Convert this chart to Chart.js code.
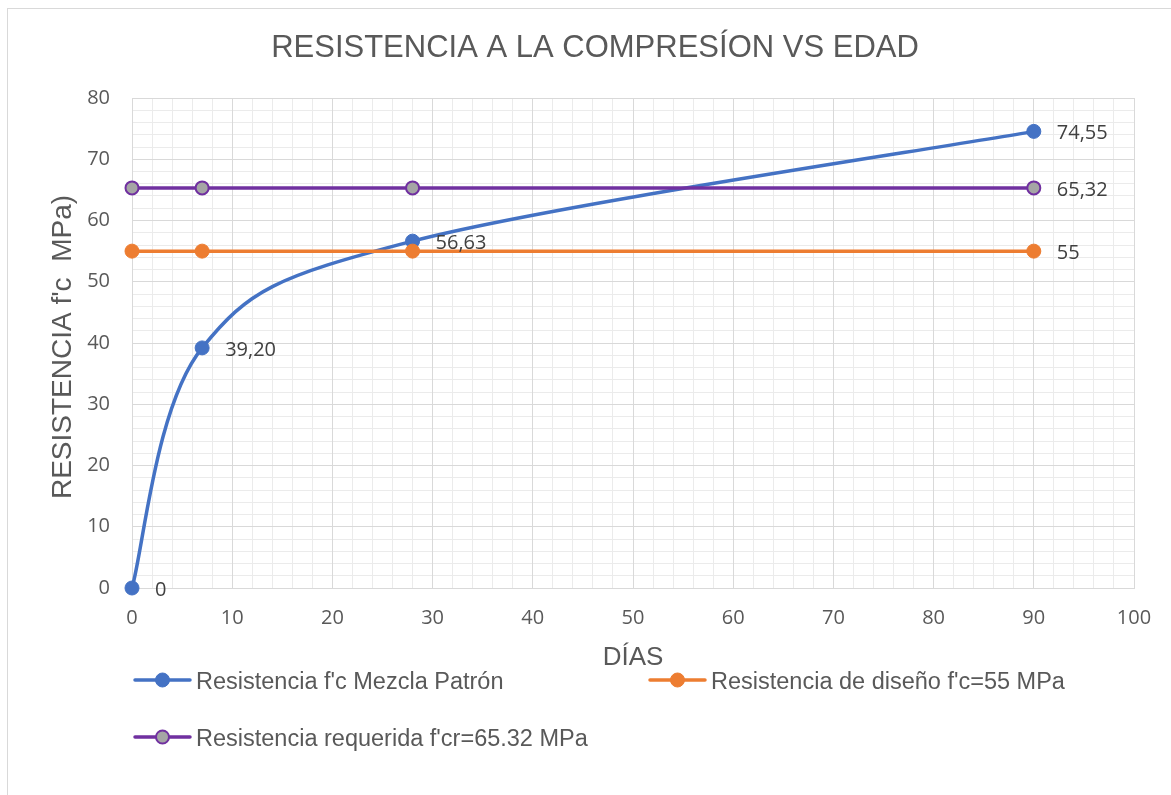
<!DOCTYPE html>
<html><head><meta charset="utf-8">
<script src="https://cdn.jsdelivr.net/npm/chart.js@4.4.1/dist/chart.umd.min.js"></script>
<style>html,body{margin:0;padding:0;background:#fff}#wrap{position:relative;width:1171px;height:795px}</style>
</head><body><div id="wrap"><canvas id="c" width="1171" height="795"></canvas></div>
<script>
const days = [0, 7, 28, 90];
const mezclaPatron = [0, 39.20, 56.63, 74.55];
const disenoValues = [55, 55, 55, 55];
const requeridaValues = [65.32, 65.32, 65.32, 65.32];
const mezclaLabels = ['0', '39,20', '56,63', '74,55'];
const disenoLabels = ['', '', '', '55'];
const requeridaLabels = ['', '', '', '65,32'];
const seriesNames = ["Resistencia f'c Mezcla Patrón", "Resistencia de diseño f'c=55 MPa", "Resistencia requerida f'cr=65.32 MPa"];
const chartTitle = 'RESISTENCIA A LA COMPRESÍON VS EDAD';
const xTitle = 'DÍAS';
const yTitle = "RESISTENCIA f'c  MPa)";
const xRange = [0, 100];
const yRange = [0, 80];

const BLUE = '#4472c4', ORANGE = '#ed7d31', PURPLE = '#7030a0', GRAY = '#a5a5a5';
const TXT = '#595959';

function pts(xs, ys) { return xs.map((x, i) => ({x: x, y: ys[i]})); }

const series = [
  {name: seriesNames[0], data: pts(days, mezclaPatron), labels: mezclaLabels, color: BLUE, fill: BLUE, border: BLUE, bw: 1, r: 7, smooth: true, order: 3},
  {name: seriesNames[1], data: pts(days, disenoValues), labels: disenoLabels, color: ORANGE, fill: ORANGE, border: ORANGE, bw: 1, r: 7, smooth: false, order: 2},
  {name: seriesNames[2], data: pts(days, requeridaValues), labels: requeridaLabels, color: PURPLE, fill: GRAY, border: PURPLE, bw: 2, r: 6.5, smooth: false, order: 1}
];

const legendItems = [
  {s: 0, x: 135, y: 680},
  {s: 1, x: 650, y: 680},
  {s: 2, x: 135, y: 737}
];

const decor = {
  id: 'decor',
  beforeDraw(chart) {
    const ctx = chart.ctx;
    ctx.save();
    ctx.fillStyle = '#fff';
    ctx.fillRect(0, 0, chart.width, chart.height);
    ctx.strokeStyle = '#d9d9d9';
    ctx.lineWidth = 1;
    ctx.strokeRect(7.5, 8.5, 1400, 1000);
    ctx.restore();
  },
  beforeDatasetDraw(chart, args) {
    // Office-style smoothing: uniform Catmull-Rom (tangent / 6)
    if (!series[args.index].smooth) return;
    const p = args.meta.dataset.points;
    const n = p.length;
    for (let i = 0; i < n; i++) {
      const prev = p[Math.max(i - 1, 0)], next = p[Math.min(i + 1, n - 1)];
      const tx = (next.x - prev.x) / 6, ty = (next.y - prev.y) / 6;
      p[i].cp1x = p[i].x - tx; p[i].cp1y = p[i].y - ty;
      p[i].cp2x = p[i].x + tx; p[i].cp2y = p[i].y + ty;
    }
  },
  afterDatasetsDraw(chart) {
    const ctx = chart.ctx;
    ctx.save();
    ctx.font = '20px "Open Sans"';
    ctx.fillStyle = '#404040';
    ctx.textAlign = 'left';
    ctx.textBaseline = 'middle';
    series.forEach((s, di) => {
      const meta = chart.getDatasetMeta(di);
      s.labels.forEach((lab, i) => {
        if (!lab) return;
        const el = meta.data[i];
        ctx.fillText(lab, el.x + 23, el.y + 2);
      });
    });
    ctx.restore();
  },
  afterDraw(chart) {
    const ctx = chart.ctx;
    ctx.save();
    ctx.fillStyle = TXT;
    ctx.textBaseline = 'alphabetic';
    // title
    ctx.font = '31px "Liberation Sans", Arial, sans-serif';
    ctx.textAlign = 'center';
    ctx.fillText(chartTitle, 595, 57);
    // x title
    ctx.font = '26px "Liberation Sans", Arial, sans-serif';
    ctx.fillText(xTitle, 633, 665);
    // y title
    ctx.save();
    ctx.font = '28px "Liberation Sans", Arial, sans-serif';
    ctx.translate(71, 347);
    ctx.rotate(-Math.PI / 2);
    ctx.textAlign = 'center';
    ctx.fillText(yTitle, 0, 0);
    ctx.restore();
    // legend
    ctx.font = '23.5px "Liberation Sans", Arial, sans-serif';
    ctx.textAlign = 'left';
    legendItems.forEach(it => {
      const s = series[it.s];
      ctx.strokeStyle = s.color;
      ctx.lineWidth = 3.5;
      ctx.lineCap = 'round';
      ctx.beginPath();
      ctx.moveTo(it.x, it.y);
      ctx.lineTo(it.x + 55, it.y);
      ctx.stroke();
      ctx.beginPath();
      ctx.arc(it.x + 27.5, it.y, s.r, 0, Math.PI * 2);
      ctx.fillStyle = s.fill;
      ctx.fill();
      ctx.lineWidth = s.bw;
      ctx.strokeStyle = s.border;
      ctx.stroke();
      ctx.fillStyle = TXT;
      ctx.fillText(s.name, it.x + 61, it.y + 8.5);
    });
    ctx.restore();
  }
};

const tickFont = {family: '"Open Sans"', size: 20};

new Chart(document.getElementById('c'), {
  type: 'scatter',
  data: {
    datasets: series.map(s => ({
      label: s.name,
      data: s.data,
      showLine: true,
      clip: false,
      borderColor: s.color,
      borderWidth: 3.5,
      tension: s.smooth ? 0.4 : 0,
      pointRadius: s.r,
      pointHoverRadius: s.r,
      pointBackgroundColor: s.fill,
      pointBorderColor: s.border,
      pointBorderWidth: s.bw,
      order: s.order,
      xAxisID: 'x',
      yAxisID: 'y'
    }))
  },
  options: {
    responsive: false,
    devicePixelRatio: 1,
    animation: false,
    events: [],
    layout: {padding: {left: 0, top: 98, right: 37, bottom: 0}},
    plugins: {legend: {display: false}, title: {display: false}, tooltip: {enabled: false}},
    scales: {
      xMinor: {
        type: 'linear', position: 'bottom', min: xRange[0], max: xRange[1], z: -1,
        ticks: {display: false, stepSize: 2},
        grid: {color: '#ebebeb', lineWidth: 1, drawTicks: false},
        border: {display: false},
        afterFit(scale) { scale.height = 0; }
      },
      yMinor: {
        type: 'linear', position: 'left', min: yRange[0], max: yRange[1], z: -1,
        ticks: {display: false, stepSize: 2},
        grid: {color: '#ebebeb', lineWidth: 1, drawTicks: false},
        border: {display: false},
        afterFit(scale) { scale.width = 0; }
      },
      x: {
        type: 'linear', position: 'bottom', min: xRange[0], max: xRange[1],
        ticks: {stepSize: 10, color: TXT, font: tickFont, padding: 18, maxRotation: 0, autoSkip: false},
        grid: {color: '#d9d9d9', lineWidth: 1, drawTicks: false},
        border: {color: '#d9d9d9', width: 1},
        afterFit(scale) { scale.height = 207; }
      },
      y: {
        type: 'linear', position: 'left', min: yRange[0], max: yRange[1],
        ticks: {stepSize: 10, color: TXT, font: tickFont, padding: 22, autoSkip: false},
        grid: {color: '#d9d9d9', lineWidth: 1, drawTicks: false},
        border: {color: '#d9d9d9', width: 1},
        afterFit(scale) { scale.width = 132; }
      }
    }
  },
  plugins: [decor]
});
</script></body></html>
